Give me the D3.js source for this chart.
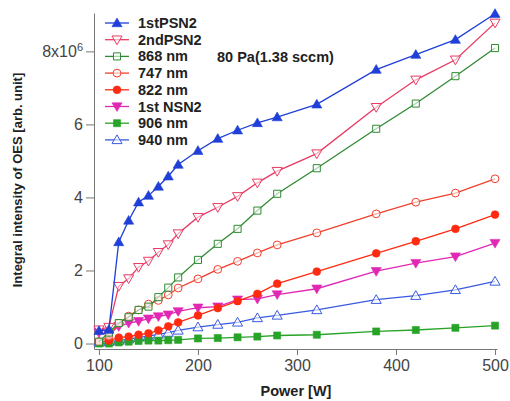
<!DOCTYPE html>
<html>
<head>
<meta charset="utf-8">
<script src="https://cdn.jsdelivr.net/npm/d3@7"></script>
<style>
  body { margin: 0; background: #fff; }
  .axis text { font-family: "Liberation Sans", Arial, sans-serif; font-size: 16px; fill: #444; }
  .axis path, .axis line { stroke: #777; stroke-width: 1; }
  .title { font-family: "Liberation Sans", Arial, sans-serif; font-weight: bold; font-size: 13px; fill: #222; }
  .legend text { font-family: "Liberation Sans", Arial, sans-serif; font-weight: bold; font-size: 14.5px; fill: #222; }
</style>
</head>
<body>
<div id="vis"></div>
<script>
// power in W, intensities in units of 1e6
var power = [100, 110, 120, 130, 140, 150, 160, 170, 180, 200, 220, 240, 260, 280, 320, 380, 420, 460, 500];

var psn1 = [0.35, 0.38, 2.78, 3.37, 3.87, 4.05, 4.3, 4.58, 4.9, 5.28, 5.61, 5.84, 6.04, 6.2, 6.55, 7.5, 7.91, 8.32, 9.03];
var psn2 = [0.38, 0.45, 1.57, 1.78, 2.09, 2.26, 2.5, 2.71, 3.01, 3.46, 3.73, 4.03, 4.4, 4.72, 5.2, 6.47, 7.22, 7.77, 8.78];
var nm868 = [0.05, 0.3, 0.56, 0.72, 0.92, 1.01, 1.27, 1.53, 1.81, 2.29, 2.73, 3.14, 3.64, 4.1, 4.8, 5.88, 6.57, 7.32, 8.09];
var nm747 = [0.05, 0.2, 0.55, 0.75, 0.92, 1.08, 1.18, 1.33, 1.52, 1.77, 2.03, 2.25, 2.48, 2.7, 3.03, 3.55, 3.87, 4.12, 4.51];
var nm822 = [0.05, 0.08, 0.16, 0.19, 0.24, 0.28, 0.36, 0.47, 0.58, 0.77, 0.97, 1.16, 1.36, 1.64, 1.97, 2.47, 2.8, 3.14, 3.53];
var nsn1 = [0.3, 0.25, 0.47, 0.56, 0.61, 0.68, 0.74, 0.79, 0.88, 0.98, 1.01, 1.2, 1.22, 1.34, 1.5, 1.98, 2.2, 2.38, 2.75];
var nm906 = [0.0, 0.0, 0.03, 0.05, 0.07, 0.08, 0.08, 0.09, 0.1, 0.14, 0.15, 0.17, 0.19, 0.22, 0.24, 0.33, 0.37, 0.43, 0.49];
var nm940 = [0.03, 0.05, 0.08, 0.12, 0.17, 0.2, 0.25, 0.3, 0.36, 0.45, 0.52, 0.58, 0.7, 0.77, 0.92, 1.2, 1.31, 1.47, 1.7];

var xTicks = [100, 200, 300, 400, 500];
var yTicks = [0, 2, 4, 6, 8];

var series = [
  {name: '1stPSN2', values: psn1, color: '#1f3fd8', shape: 'triUp', fill: true},
  {name: '2ndPSN2', values: psn2, color: '#e83a62', shape: 'triDown', fill: false},
  {name: '868 nm', values: nm868, color: '#2f8a32', shape: 'square', fill: false},
  {name: '747 nm', values: nm747, color: '#f0402e', shape: 'circle', fill: false},
  {name: '822 nm', values: nm822, color: '#ff2a10', shape: 'circle', fill: true},
  {name: '1st NSN2', values: nsn1, color: '#e028b4', shape: 'triDown', fill: true},
  {name: '906 nm', values: nm906, color: '#27a327', shape: 'square', fill: true},
  {name: '940 nm', values: nm940, color: '#3a5ae0', shape: 'triUp', fill: false}
];

(function() {
  var width = 510, height = 401;
  var plotLeft = 94, plotRight = 497, plotTop = 13, plotBottom = 349;

  var svg = d3.select('#vis').append('svg')
      .attr('width', width)
      .attr('height', height);

  var xScale = d3.scaleLinear().domain([95, 502]).range([plotLeft, plotRight]);
  var yScale = d3.scaleLinear().domain([-0.15, 9.05]).range([plotBottom, plotTop]);

  var xAxis = d3.axisBottom(xScale).tickValues(xTicks).tickSizeInner(6).tickSizeOuter(0).tickPadding(5);
  var yAxis = d3.axisLeft(yScale).tickValues(yTicks).tickSizeInner(8).tickSizeOuter(0).tickPadding(3)
      .tickFormat(function(d) { return d === 8 ? '8x10' : d; });

  svg.append('g').attr('class', 'axis')
      .attr('transform', 'translate(0,' + plotBottom + ')')
      .call(xAxis);

  var yg = svg.append('g').attr('class', 'axis')
      .attr('transform', 'translate(' + plotLeft + ',0)')
      .call(yAxis);

  // superscript on the top tick label
  yg.selectAll('.tick text').filter(function(d) { return d === 8; })
      .append('tspan')
      .attr('dy', '-0.55em')
      .attr('font-size', '11px')
      .text('6');

  var symbolFor = function(shape) {
    if (shape === 'square') return d3.symbol().type(d3.symbolSquare).size(50);
    if (shape === 'circle') return d3.symbol().type(d3.symbolCircle).size(48);
    return d3.symbol().type(d3.symbolTriangle).size(44);
  };

  var drawMarker = function(g, s, x, y) {
    var rot = s.shape === 'triDown' ? ' rotate(180)' : '';
    var dy = s.shape === 'triUp' ? 0.8 : (s.shape === 'triDown' ? -0.8 : 0);
    g.append('path')
        .attr('d', symbolFor(s.shape)())
        .attr('transform', 'translate(' + x + ',' + (y + dy) + ')' + rot)
        .attr('fill', s.fill ? s.color : '#fff')
        .attr('fill-opacity', s.fill ? 1 : 0.6)
        .attr('stroke', s.color)
        .attr('stroke-width', s.fill ? 0.6 : 1);
  };

  var line = d3.line()
      .x(function(d, i) { return xScale(power[i]); })
      .y(function(d) { return yScale(d); });

  // draw back to front so the top-listed series sit on top
  series.slice().reverse().forEach(function(s) {
    var g = svg.append('g');
    g.append('path')
        .datum(s.values)
        .attr('fill', 'none')
        .attr('stroke', s.color)
        .attr('stroke-width', 1.3)
        .attr('d', line);
    s.values.forEach(function(v, i) {
      drawMarker(g, s, xScale(power[i]), yScale(v));
    });
  });

  // legend
  var legend = svg.append('g').attr('class', 'legend');
  series.forEach(function(s, i) {
    var ly = 23 + i * 16.7;
    var lg = legend.append('g');
    lg.append('line')
        .attr('x1', 105).attr('x2', 129)
        .attr('y1', ly).attr('y2', ly)
        .attr('stroke', s.color).attr('stroke-width', 1.3);
    drawMarker(lg, s, 117, ly);
    lg.append('text')
        .attr('x', 138).attr('y', ly + 5)
        .text(s.name);
  });

  svg.append('text')
      .attr('class', 'title')
      .attr('x', 217).attr('y', 62)
      .style('font-size', '14.5px')
      .text('80 Pa(1.38 sccm)');

  svg.append('text')
      .attr('class', 'title')
      .attr('x', 296).attr('y', 396)
      .attr('text-anchor', 'middle')
      .style('font-size', '14.5px')
      .text('Power [W]');

  svg.append('text')
      .attr('class', 'title')
      .attr('transform', 'translate(22,' + 180 + ') rotate(-90)')
      .attr('text-anchor', 'middle')
      .text('Integral intensity of OES [arb. unit]');
})();
</script>
</body>
</html>
